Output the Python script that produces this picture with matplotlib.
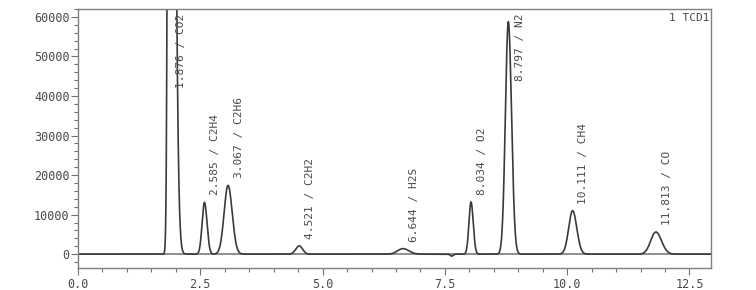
import numpy as np
import matplotlib
matplotlib.use("Agg")
import matplotlib.pyplot as plt
from matplotlib.ticker import MultipleLocator

# peak table
rt = [1.876, 2.585, 3.067, 4.521, 6.644, 8.034, 8.797, 10.111, 11.813]
names = ["CO2", "C2H4", "C2H6", "C2H2", "H2S", "O2", "N2", "CH4", "CO"]
heights = [400000, 13100, 17400, 2100, 1400, 13200, 58800, 11000, 5600]
sig_left = [0.03, 0.048, 0.08, 0.07, 0.11, 0.042, 0.06, 0.08, 0.105]
sig_right = [0.075, 0.052, 0.085, 0.07, 0.12, 0.045, 0.065, 0.085, 0.115]
# small negative dip before O2
dip_rt, dip_h, dip_s = 7.64, -500, 0.03

x = np.linspace(0, 12.95, 6000)
y = np.zeros_like(x)
for t, h, sl, sr in zip(rt, heights, sig_left, sig_right):
    s = np.where(x < t, sl, sr)
    y += h * np.exp(-(x - t) ** 2 / (2 * s ** 2))
y += dip_h * np.exp(-(x - dip_rt) ** 2 / (2 * dip_s ** 2))

fig = plt.figure(figsize=(7.56, 2.90), dpi=100)
ax = fig.add_axes([78 / 756, 1 - 268 / 290, (711 - 78) / 756, (268 - 9) / 290])

line_c = "#3a3a3a"
text_c = "#4a4a4a"
ax.axhline(0, color="#707070", lw=1.1, zorder=1)
ax.plot(x, y, color=line_c, lw=1.2, zorder=2)

ax.set_xlim(0, 12.94)
ax.set_ylim(-3500, 62000)

for t, h, n in zip(rt, heights, names):
    lab = "%.3f / %s" % (t, n)
    if h + 1800 > 40000:
        ax.text(t + 0.23, 60800, lab, rotation=90, ha="center", va="top",
                family="DejaVu Sans Mono", fontsize=8, color=text_c)
    else:
        ax.text(t + 0.22, h + 1800, lab, rotation=90, ha="center", va="bottom",
                family="DejaVu Sans Mono", fontsize=8, color=text_c)

ax.text(12.9, 61000, "1 TCD1", ha="right", va="top",
        family="DejaVu Sans Mono", fontsize=8, color=text_c)

ax.xaxis.set_major_locator(MultipleLocator(2.5))
ax.xaxis.set_minor_locator(MultipleLocator(0.5))
ax.yaxis.set_major_locator(MultipleLocator(10000))
ax.yaxis.set_minor_locator(MultipleLocator(2000))
ax.xaxis.set_major_formatter(matplotlib.ticker.FormatStrFormatter("%.1f"))
ax.yaxis.set_major_formatter(matplotlib.ticker.FormatStrFormatter("%d"))

for lbl in ax.get_xticklabels() + ax.get_yticklabels():
    lbl.set_family("DejaVu Sans Mono")
ax.tick_params(which="major", length=5, width=0.8, color="#707070",
               labelsize=8.5, labelcolor=text_c, pad=2)
ax.tick_params(which="minor", length=3, width=0.8, color="#707070")
ax.tick_params(axis="y", which="major", pad=1)
for sp in ax.spines.values():
    sp.set_color("#808080")
    sp.set_linewidth(1.0)

fig.savefig("out.png", dpi=100)
